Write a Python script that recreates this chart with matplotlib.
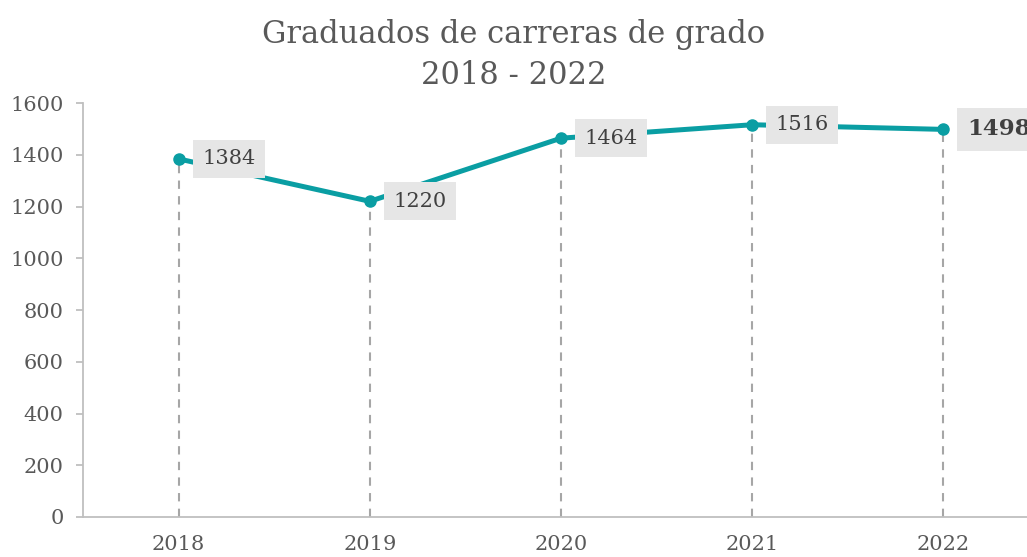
import matplotlib
matplotlib.use("Agg")
import matplotlib.pyplot as plt

# graduados por año
years = ["2018", "2019", "2020", "2021", "2022"]
graduados = [1384, 1220, 1464, 1516, 1498]
yticks = [0, 200, 400, 600, 800, 1000, 1200, 1400, 1600]

teal = "#0a9ea3"
grid_gray = "#bfbfbf"
text_gray = "#595959"

plt.rcParams["font.family"] = ["DejaVu Serif"]

fig = plt.figure(figsize=(10.27, 5.57), dpi=100)
# axes run past the right edge, like the original export
ax = fig.add_axes([83 / 1027, 1 - 517 / 557, 956 / 1027, 414 / 557])

x = list(range(len(years)))
ax.vlines(x, 0, graduados, colors="#a6a6a6", linestyles=(0, (4, 3.5)), lw=1.5, zorder=1)
ax.plot(x, graduados, color=teal, lw=3.6, marker="o", ms=8, zorder=3,
        solid_capstyle="round")

for i, v in enumerate(graduados):
    last = i == len(graduados) - 1
    ax.annotate(str(v), (i, v), xytext=(17, 0), textcoords="offset points",
                ha="left", va="center",
                fontsize=16.5 if last else 15,
                fontweight="bold" if last else "normal",
                color="#404040", zorder=4, annotation_clip=False,
                bbox=dict(boxstyle="square,pad=0.45", fc="#e6e6e6", ec="none"))

ax.set_xlim(-0.5, len(years) - 0.5)
ax.set_ylim(0, 1600)
ax.set_yticks(yticks)
ax.set_xticks(x)
ax.set_xticklabels(years)

for s in ["top", "right"]:
    ax.spines[s].set_visible(False)
for s in ["left", "bottom"]:
    ax.spines[s].set_color(grid_gray)
    ax.spines[s].set_linewidth(1.3)

ax.tick_params(axis="y", length=5, width=1.3, color=grid_gray, pad=9,
               labelsize=15, labelcolor=text_gray)
ax.tick_params(axis="x", length=0, pad=13, labelsize=15, labelcolor=text_gray)

fig.text(0.5, 0.965, "Graduados de carreras de grado\n2018 - 2022",
         ha="center", va="top", fontsize=22, color=text_gray, linespacing=1.38)

fig.savefig("out.png", dpi=100)
